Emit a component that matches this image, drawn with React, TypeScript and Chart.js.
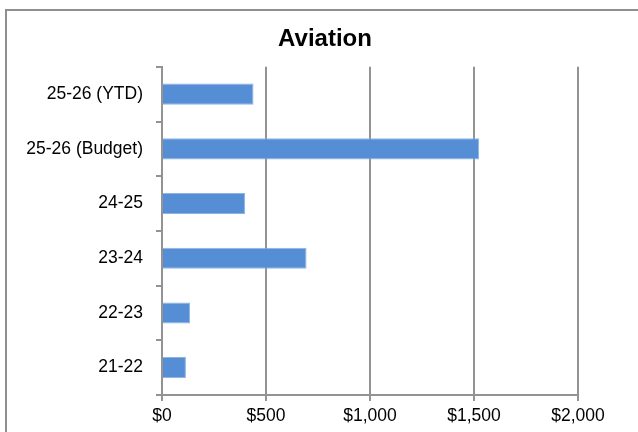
import React, { useEffect, useRef } from "react";
import { Chart, registerables } from "chart.js";

Chart.register(...registerables);

const categories: string[] = ["25-26 (YTD)", "25-26 (Budget)", "24-25", "23-24", "22-23", "21-22"];
const values: number[] = [440, 1525, 400, 695, 135, 115];
const xTicks: number[] = [0, 500, 1000, 1500, 2000];
const chartTitle = "Aviation";

const FONT = "'Liberation Sans', Arial, sans-serif";

const centerTitlePlugin = {
  id: "centerTitle",
  afterLayout(chart: any) {
    const t = chart.titleBlock;
    if (t) {
      t.left = 10;
      t.right = 640;
    }
  },
};

export default function App() {
  const ref = useRef<HTMLCanvasElement | null>(null);

  useEffect(() => {
    document.body.style.margin = "0";
    const canvas = ref.current;
    if (!canvas) return;
    const chart = new Chart(canvas, {
      type: "bar",
      data: {
        labels: categories,
        datasets: [
          {
            data: values,
            backgroundColor: "#558ed5",
            borderColor: "#8db4e3",
            borderWidth: 1,
            barPercentage: 0.385,
            categoryPercentage: 1,
          },
        ],
      },
      plugins: [centerTitlePlugin],
      options: {
        indexAxis: "y",
        animation: false,
        responsive: false,
        maintainAspectRatio: false,
        layout: { padding: { top: 10, right: 60, bottom: 8, left: 0 } },
        plugins: {
          legend: { display: false },
          tooltip: { enabled: false },
          title: {
            display: true,
            text: chartTitle,
            color: "#000",
            font: { family: FONT, size: 24, weight: "bold" },
            padding: { top: 15, bottom: 13 },
          },
        },
        scales: {
          x: {
            type: "linear",
            min: xTicks[0],
            max: xTicks[xTicks.length - 1],
            afterBuildTicks: (scale: any) => {
              scale.ticks = xTicks.map((v) => ({ value: v }));
            },
            ticks: {
              color: "#000",
              font: { family: FONT, size: 17.5 },
              padding: 5,
              callback: (v: any) => "$" + Number(v).toLocaleString("en-US"),
            },
            grid: { color: "#939393", lineWidth: 2, tickLength: 6, drawTicks: true },
            border: { display: true, color: "#939393", width: 2 },
          },
          y: {
            type: "category",
            offset: true,
            afterFit: (scale: any) => {
              scale.width = 162;
            },
            ticks: {
              color: "#000",
              font: { family: FONT, size: 17.5 },
              padding: 13,
            },
            grid: { drawOnChartArea: false, color: "#939393", lineWidth: 2, tickLength: 6, offset: true },
            border: { display: true, color: "#939393", width: 2 },
          },
        },
      },
    });
    return () => chart.destroy();
  }, []);

  return (
    <div style={{ position: "absolute", left: 0, top: 0, width: 638, height: 432, overflow: "hidden", background: "#fff" }}>
      <div
        style={{
          position: "absolute",
          left: 5,
          top: 9,
          width: 700,
          height: 500,
          border: "2px solid #8f8f8f",
          boxSizing: "border-box",
        }}
      />
      <canvas ref={ref} width={638} height={440} style={{ position: "absolute", left: 0, top: 0, width: 638, height: 440 }} />
    </div>
  );
}
